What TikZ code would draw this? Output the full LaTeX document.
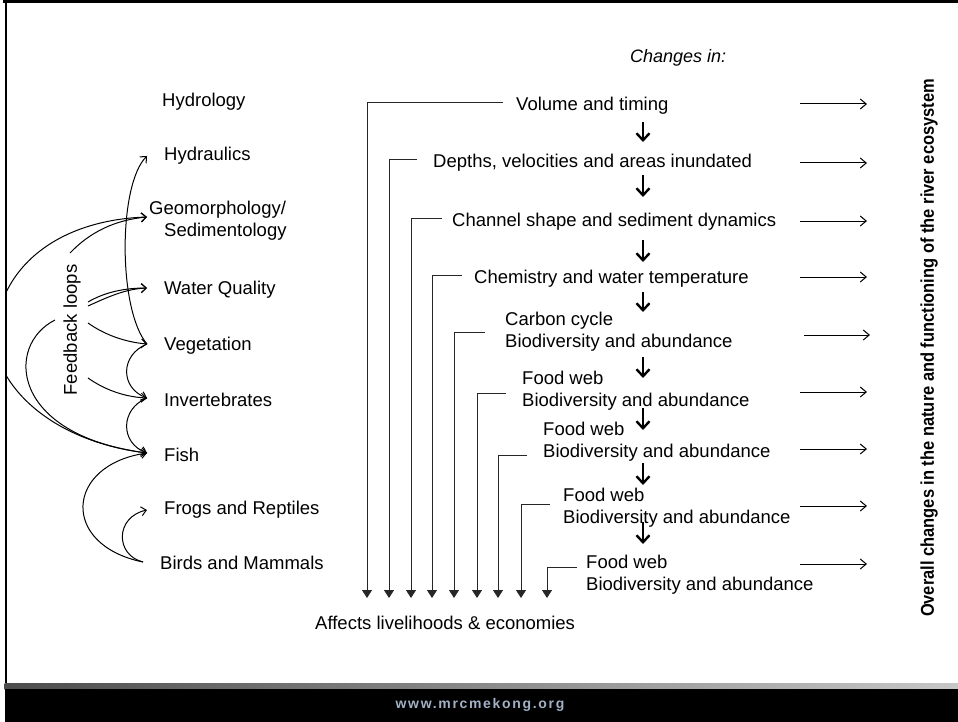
\documentclass[tikz,border=0pt]{standalone}
\usepackage{graphicx}
\usepackage{fontspec}
\setmainfont{Liberation Sans}
\newfontfamily\urlfont[LetterSpace=12]{Liberation Sans}
\usetikzlibrary{arrows.meta}
\definecolor{urlcol}{HTML}{A2B1C6}
\begin{document}
\begin{tikzpicture}[x=1pt,y=-1pt,
  lbl/.style={font=\fontsize{18.5}{22}\selectfont, inner sep=0pt, anchor=west, align=left},
  fb/.style={line width=1pt, -{Straight Barb[length=5pt,width=9pt]}},
  feed/.style={line width=0.9pt, draw=black!85, -{Triangle[length=8pt,width=10pt]}},
  dnarr/.style={line width=2.4pt, -{Straight Barb[length=7pt,width=13pt]}},
  outarr/.style={line width=1pt, -{Straight Barb[length=6pt,width=10pt]}}]
\useasboundingbox (0,0) rectangle (958,722);
\fill[white] (0,0) rectangle (958,722);
% frame and bottom band
\fill[black] (3,0) rectangle (958,3);
\fill[black] (4.5,0) rectangle (6.5,689);
\shade[left color=black!70, right color=black!22] (4.5,683) rectangle (958,689);
\fill[black] (4.5,689) rectangle (958,722);
\node[font=\urlfont\bfseries\fontsize{14}{16}\selectfont, text=urlcol] (url) at (480,705) {www.mrcmekong.org};

% left column
\node[lbl] (hyd) at (162,102) {Hydrology};
\node[lbl] (hdr) at (164,156) {Hydraulics};
\node[lbl] (geo) at (149,221) {Geomorphology/\\\hspace*{15pt}Sedimentology};
\node[lbl] (wq) at (164,290) {Water Quality};
\node[lbl] (veg) at (164,346) {Vegetation};
\node[lbl] (inv) at (164,400) {Invertebrates};
\node[lbl] (fish) at (164,455) {Fish};
\node[lbl] (frog) at (164,510) {Frogs and Reptiles};
\node[lbl] (bird) at (160,563) {Birds and Mammals};
\node[lbl, anchor=center, rotate=90] (fbl) at (72,330) {Feedback loops};

\coordinate (tHdr) at (147,156);
\coordinate (tGeo) at (147,217);
\coordinate (tWq) at (147,288);
\coordinate (tVeg) at (147,344);
\coordinate (tInv) at (147,398);
\coordinate (tFish) at (147,453);
\coordinate (tFrog) at (147,510);
\coordinate (sBird) at (143,562);
\coordinate (f1) at (70,253);
\coordinate (f2) at (88,302);
\coordinate (f3) at (88,306);
\coordinate (f4) at (88,323);
\coordinate (f5) at (88,378);
\coordinate (f6) at (55,320);
\coordinate (far) at (-5,335);

\draw[fb] (tVeg) .. controls (118,310) and (118,185) .. (tHdr);
\begin{scope}
\clip (6.5,0) rectangle (958,722);
\draw[fb] (tFish) .. controls (40,440) and (-8,375) .. (far) .. controls (0,265) and (60,220) .. (tGeo);
\end{scope}
\draw[fb] (f1) .. controls (90,232) and (115,220) .. (tGeo);
\draw[fb] (f2) .. controls (105,292) and (125,288) .. (tWq);
\draw[fb] (f3) .. controls (108,297) and (125,289) .. (tWq);
\draw[fb] (f4) .. controls (105,335) and (125,342) .. (tVeg);
\draw[fb] (f5) .. controls (105,390) and (125,397) .. (tInv);
\draw[fb] (f6) .. controls (5,345) and (10,435) .. (tFish);
\draw[fb] (tVeg) .. controls (120,355) and (120,388) .. (tInv);
\draw[fb] (tInv) .. controls (120,409) and (120,443) .. (tFish);
\draw[fb] (sBird) .. controls (60,545) and (65,465) .. (tFish);
\draw[fb] (sBird) .. controls (115,555) and (115,517) .. (tFrog);

% middle column
\node[lbl, font=\itshape\fontsize{18}{22}\selectfont] (chg) at (630,58) {Changes in:};
\node[lbl] (m1) at (516,106) {Volume and timing};
\node[lbl] (m2) at (433,163) {Depths, velocities and areas inundated};
\node[lbl] (m3) at (452,222) {Channel shape and sediment dynamics};
\node[lbl] (m4) at (474,279) {Chemistry and water temperature};
\node[lbl] (m5) at (505,332) {Carbon cycle\\Biodiversity and abundance};
\node[lbl] (m6) at (522,391) {Food web\\Biodiversity and abundance};
\node[lbl] (m7) at (543,442) {Food web\\Biodiversity and abundance};
\node[lbl] (m8) at (563,508) {Food web\\Biodiversity and abundance};
\node[lbl] (m9) at (586,575) {Food web\\Biodiversity and abundance};
\node[lbl] (aff) at (315,623) {Affects livelihoods \& economies};

\coordinate (e1) at (503,102); \coordinate (b1) at (367,598);
\coordinate (e2) at (417,159); \coordinate (b2) at (389,598);
\coordinate (e3) at (442,218); \coordinate (b3) at (411,598);
\coordinate (e4) at (462,275); \coordinate (b4) at (432,598);
\coordinate (e5) at (485,332); \coordinate (b5) at (454,598);
\coordinate (e6) at (506,393); \coordinate (b6) at (477,598);
\coordinate (e7) at (527,455); \coordinate (b7) at (498,598);
\coordinate (e8) at (550,504); \coordinate (b8) at (521,598);
\coordinate (e9) at (577,567); \coordinate (b9) at (547,598);
\foreach \i in {1,...,9} {\draw[feed] (e\i) -| (b\i);}

% down arrows between stages
\foreach \a/\b [count=\k] in {122/142,175/197,240/262,292/312,357/378,408/430,463/485,522/544} {
  \coordinate (ds\k) at (643,\a);
  \coordinate (de\k) at (643,\b);
  \draw[dnarr] (ds\k) -- (de\k);
}

% right arrows
\foreach \y/\xa/\xb [count=\k] in {104/800/867,163/800/867,221/800/867,277/800/867,335/804/870,392/800/867,449/800/867,506/800/867,564/800/867} {
  \coordinate (rs\k) at (\xa,\y);
  \coordinate (re\k) at (\xb,\y);
  \draw[outarr] (rs\k) -- (re\k);
}

\node[font=\bfseries\fontsize{18.5}{22}\selectfont, rotate=90, inner sep=0pt] (ovr) at (929,348)
  {\scalebox{0.89}[1]{Overall changes in the nature and functioning of the river ecosystem}};
\end{tikzpicture}
\end{document}
